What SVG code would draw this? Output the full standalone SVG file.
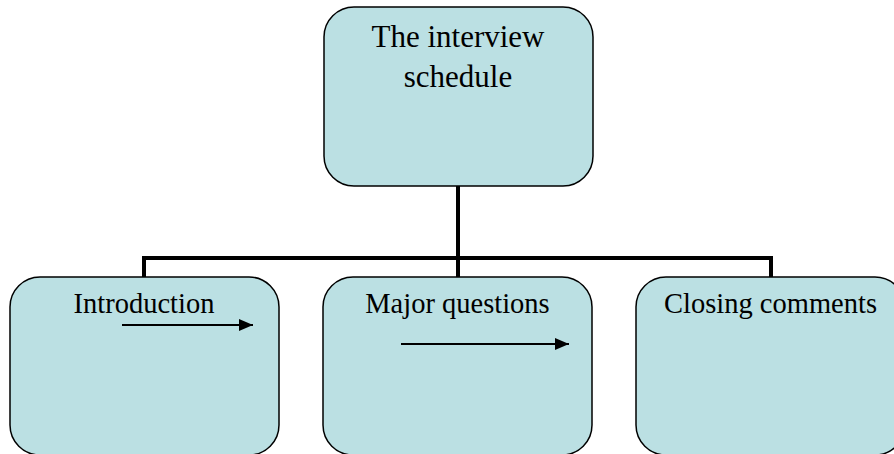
<svg xmlns="http://www.w3.org/2000/svg" width="894" height="454" viewBox="0 0 894 454">
<style>
.box{fill:#BBE0E3;stroke:#000;stroke-width:1.5}
.t{font-family:"Liberation Serif","Times New Roman",serif;fill:#000;text-anchor:middle}
.big{font-size:31px}
.sm{font-size:28.5px}
.conn{fill:none;stroke:#000;stroke-width:4}
.arr{stroke:#000;stroke-width:2;fill:none}
</style>
<defs>
<marker id="ah" markerWidth="14" markerHeight="12" refX="14" refY="6" orient="auto" markerUnits="userSpaceOnUse">
<path d="M0,0 L14,6 L0,12 Z" fill="#000"/>
</marker>
</defs>
<rect width="894" height="454" fill="#fff"/>
<g id="connectors">
<path class="conn" d="M458,186 V258 M144,277 V258 H771 V277 M458,258 V277"/>
</g>
<g id="top">
<rect class="box" x="324" y="7" width="269" height="179" rx="30"/>
<text class="t big" x="458" y="47">The interview</text>
<text class="t big" x="458" y="87">schedule</text>
</g>
<g id="intro">
<rect class="box" x="10" y="277" width="269" height="178" rx="30"/>
<text class="t sm" x="144" y="313">Introduction</text>
<line class="arr" x1="122" y1="325" x2="253" y2="325" marker-end="url(#ah)"/>
</g>
<g id="major">
<rect class="box" x="323" y="277" width="269" height="178" rx="30"/>
<text class="t sm" x="457.5" y="313">Major questions</text>
<line class="arr" x1="401" y1="344" x2="569" y2="344" marker-end="url(#ah)"/>
</g>
<g id="closing">
<rect class="box" x="636" y="277" width="269" height="178" rx="30"/>
<text class="t sm" x="770.5" y="313">Closing comments</text>
</g>
</svg>
